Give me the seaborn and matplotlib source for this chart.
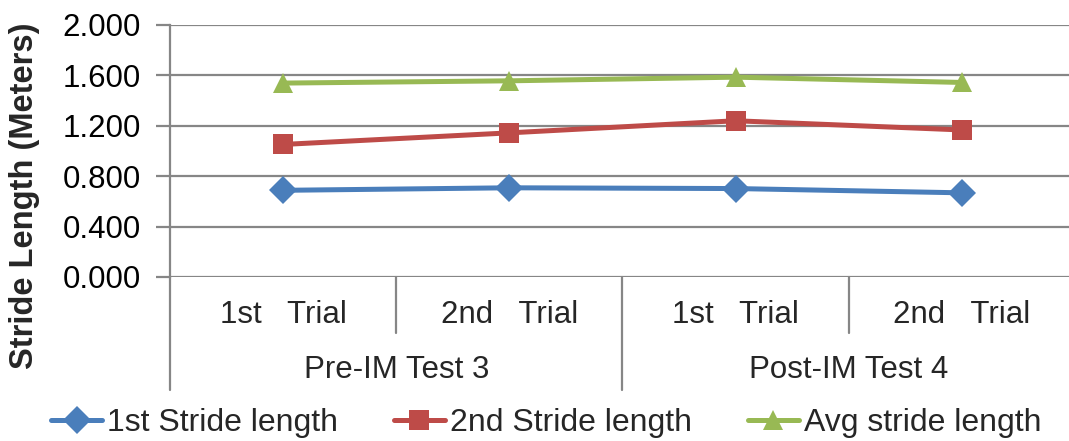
import matplotlib
matplotlib.use("Agg")
import matplotlib.pyplot as plt
import matplotlib.transforms as mtransforms
import numpy as np
import pandas as pd
import seaborn as sns

# values
trials = ["1st   Trial", "2nd   Trial", "1st   Trial", "2nd   Trial"]
tests = ["Pre-IM Test 3", "Post-IM Test 4"]
series_names = ["1st Stride length", "2nd Stride length", "Avg stride length"]
first_stride = [0.688, 0.708, 0.702, 0.668]
second_stride = [1.052, 1.144, 1.240, 1.167]
avg_stride = [1.539, 1.557, 1.586, 1.544]
y_ticks = [0.0, 0.4, 0.8, 1.2, 1.6, 2.0]

colors = ["#4A7EBB", "#BE4B48", "#98B954"]
markers = ["D", "s", "^"]
grid_c = "#868686"

sns.set_theme(style="white")
plt.rcParams["font.family"] = ["Liberation Sans", "DejaVu Sans"]

pos = list(range(len(trials)))
df = pd.DataFrame({
    "pos": pos * 3,
    "value": first_stride + second_stride + avg_stride,
    "series": np.repeat(series_names, len(trials)),
})

fig = plt.figure(figsize=(10.69, 4.41), dpi=100)
ax = fig.add_axes([170 / 1069, 1 - 277 / 441, 905 / 1069, 252 / 441])

sns.lineplot(data=df, x="pos", y="value", hue="series", style="series",
             palette=colors, markers=markers, dashes=False, linewidth=3.6,
             markersize=14, markeredgewidth=0, errorbar=None, sort=False,
             legend=False, ax=ax, zorder=3)
handles = list(ax.get_lines()[:3])

ax.set_xlim(-0.5, len(trials) - 0.5)
ax.set_ylim(0, 2.0)
ax.set_yticks(y_ticks)
ax.set_yticklabels([f"{v:.3f}" for v in y_ticks])
ax.set_xticks([])
ax.set_xlabel("")
ax.set_ylabel("")
ax.yaxis.grid(True, color=grid_c, linewidth=1.6)
ax.set_axisbelow(True)
ax.tick_params(axis="y", left=True, length=10, width=1.6, color=grid_c,
               pad=11, labelsize=22.5, labelcolor="black")
for s in ["top", "right", "bottom"]:
    ax.spines[s].set_visible(False)
ax.spines["left"].set_color(grid_c)
ax.spines["left"].set_linewidth(1.6)

# category axis: trial labels, group labels and divider lines
trans = mtransforms.blended_transform_factory(ax.transData, ax.transAxes)
for i, t in enumerate(trials):
    ax.text(i, -0.15, t, transform=trans, ha="center", va="center",
            fontsize=22.5)
for g, name in enumerate(tests):
    ax.text(2 * g + 0.5, -0.37, name, transform=trans, ha="center",
            va="center", fontsize=22.5)
for x in [0.5, 2.5]:
    ax.plot([x, x], [0, -0.222], transform=trans, color=grid_c,
            linewidth=1.6, clip_on=False)
for x in [-0.5, 1.5, 3.5]:
    ax.plot([x, x], [0, -0.448], transform=trans, color=grid_c,
            linewidth=1.6, clip_on=False)

fig.text(24.5 / 1069, 1 - 196 / 441, "Stride Length (Meters)",
         rotation=90, ha="center", va="center", fontsize=23.5,
         fontweight="bold")

fig.legend(handles, series_names, loc="center", ncol=3,
           bbox_to_anchor=(546 / 1069, 1 - 423 / 441), frameon=False,
           fontsize=23, handlelength=1.6, handletextpad=0.15,
           columnspacing=1.75, borderpad=0, borderaxespad=0)

fig.savefig("out.png", dpi=100)
